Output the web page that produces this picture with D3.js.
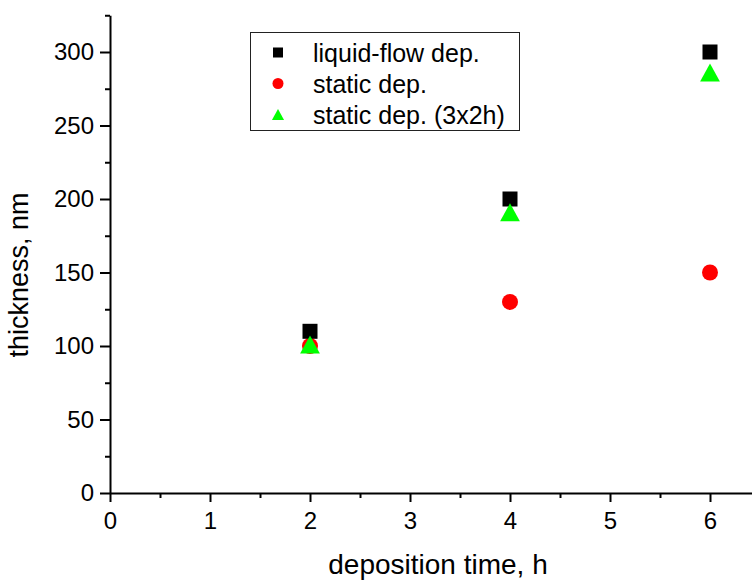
<!DOCTYPE html>
<html><head><meta charset="utf-8">
<script src="https://cdn.jsdelivr.net/npm/d3@7"></script>
<style>body{margin:0;background:#fff}svg{display:block}text{font-family:Arial,"Liberation Sans",sans-serif;fill:#000}</style>
</head><body><svg id="c" width="752" height="580"></svg>
<script>
const times = [2, 4, 6];
const liquidFlow = [110, 200, 300];
const staticDep = [100, 130, 150];
const static3x2h = [101, 191, 286];
const seriesNames = ["liquid-flow dep.", "static dep.", "static dep. (3x2h)"];
const xTicks = [0, 1, 2, 3, 4, 5, 6];
const yTicks = [0, 50, 100, 150, 200, 250, 300];
const xLabel = "deposition time, h";
const yLabel = "thickness, nm";

const svg = d3.select("#c");
const x = d3.scaleLinear().domain([0, 6.42]).range([110, 752]);
const y = d3.scaleLinear().domain([0, 325]).range([493, 15.25]);

// minor ticks
const xMinor = d3.range(0.5, 6.42, 1);
const yMinor = d3.range(25, 326, 50);
svg.append("g").attr("transform", "translate(0,493)")
  .call(d3.axisBottom(x).tickValues(xMinor).tickSize(5).tickFormat(""))
  .call(g => g.select(".domain").remove())
  .selectAll("line").attr("stroke", "#000").attr("stroke-width", 2);
svg.append("g").attr("transform", "translate(110,0)")
  .call(d3.axisLeft(y).tickValues(yMinor).tickSize(5).tickFormat(""))
  .call(g => g.select(".domain").remove())
  .selectAll("line").attr("stroke", "#000").attr("stroke-width", 2);

// major axes
const xAxis = svg.append("g").attr("transform", "translate(0,493)")
  .call(d3.axisBottom(x).tickValues(xTicks).tickSize(9).tickSizeOuter(0).tickPadding(10).tickFormat(d3.format("d")));
const yAxis = svg.append("g").attr("transform", "translate(110,0)")
  .call(d3.axisLeft(y).tickValues(yTicks).tickSize(10).tickSizeOuter(0).tickPadding(6).tickFormat(d3.format("d")));
[xAxis, yAxis].forEach(a => {
  a.select(".domain").attr("stroke", "#000").attr("stroke-width", 2);
  a.selectAll(".tick line").attr("stroke", "#000").attr("stroke-width", 2);
  a.selectAll("text").attr("font-size", 24).attr("font-family", "Arial, 'Liberation Sans', sans-serif").attr("fill", "#000");
});

// axis titles
svg.append("text").attr("x", 438).attr("y", 574).attr("text-anchor", "middle")
  .attr("font-size", 28).text(xLabel);
svg.append("text").attr("transform", "translate(28,275) rotate(-90)").attr("text-anchor", "middle")
  .attr("font-size", 27).text(yLabel);

const triPath = (s) => { const h = s; const w = s * 1.1; return `M0,${-h/2}L${w/2},${h/2}L${-w/2},${h/2}Z`; };

const g = svg.append("g");
g.selectAll(".c").data(times).join("circle")
  .attr("cx", (d) => x(d)).attr("cy", (d, i) => y(staticDep[i])).attr("r", 8).attr("fill", "#ff0000");
g.selectAll(".s").data(times).join("rect")
  .attr("x", d => x(d) - 7.5).attr("y", (d, i) => y(liquidFlow[i]) - 7.5)
  .attr("width", 15).attr("height", 15).attr("fill", "#000");
g.selectAll(".t").data(times).join("path")
  .attr("transform", (d, i) => `translate(${x(d)},${y(static3x2h[i])})`)
  .attr("d", triPath(18)).attr("fill", "#00ff00");

// legend
const lg = svg.append("g");
lg.append("rect").attr("x", 250.5).attr("y", 32.5).attr("width", 269).attr("height", 98)
  .attr("fill", "#fff").attr("stroke", "#222").attr("stroke-width", 1);
const rows = [52.5, 83.5, 114.5];
lg.append("rect").attr("x", 273).attr("y", rows[0] - 5).attr("width", 10).attr("height", 10).attr("fill", "#000");
lg.append("circle").attr("cx", 278).attr("cy", rows[1]).attr("r", 5.5).attr("fill", "#ff0000");
lg.append("path").attr("transform", `translate(278,${rows[2]})`).attr("d", triPath(11)).attr("fill", "#00ff00");
seriesNames.forEach((n, i) => {
  lg.append("text").attr("x", 313).attr("y", rows[i]).attr("dy", "0.36em").attr("font-size", 25).text(n);
});
</script></body></html>
